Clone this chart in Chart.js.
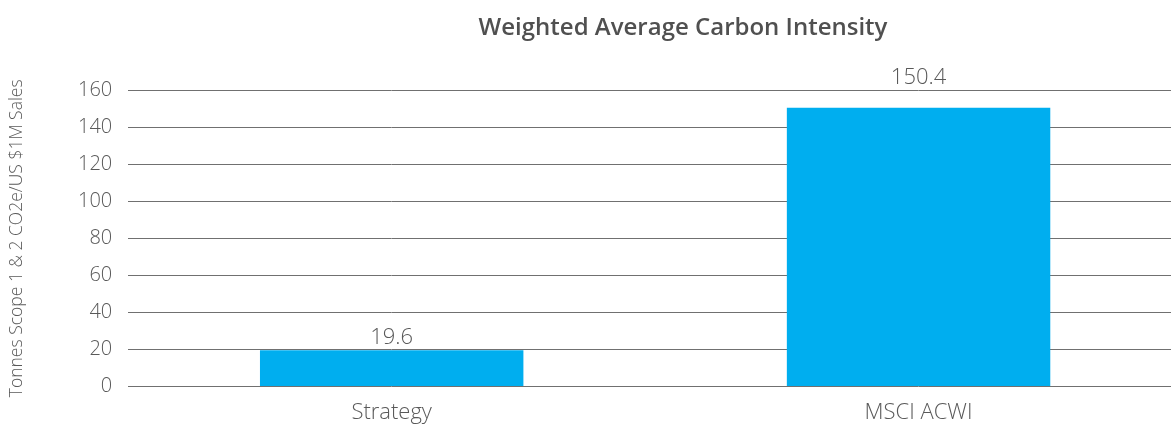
<!DOCTYPE html>
<html>
<head>
<meta charset="utf-8">
<script src="https://cdn.jsdelivr.net/npm/chart.js@4/dist/chart.umd.min.js"></script>
<style>
	html, body { margin: 0; padding: 0; background: #fff; overflow: hidden; }
	#wrap { width: 1182px; height: 439px; }
</style>
</head>
<body>
<div id="wrap"><canvas id="chart"></canvas></div>
<script>
const categories = ["Strategy", "MSCI ACWI"]
const intensity = [19.6, 150.4]
const yTicks = [0, 20, 40, 60, 80, 100, 120, 140, 160]
const chartTitle = "Weighted Average Carbon Intensity"
const yTitle = "Tonnes Scope 1 & 2 CO2e/US $1M Sales"

const FONT = "'Open Sans', 'DejaVu Sans', sans-serif"
const TEXT = "#595959"
const GRID = "#707070"

// value labels sit above the first gridline over each bar, plus the title
const labelsPlugin = {
	id: "valueLabels",
	afterDatasetsDraw(chart) {
		const ctx = chart.ctx
		const yScale = chart.scales.y
		ctx.save()
		ctx.fillStyle = TEXT
		ctx.font = "300 22px " + FONT
		ctx.textAlign = "center"
		ctx.textBaseline = "alphabetic"
		chart.getDatasetMeta(0).data.forEach((bar, i) => {
			const above = yTicks.find(t => t >= intensity[i])
			const lineY = above !== undefined ? yScale.getPixelForValue(above) : bar.y
			ctx.fillText(intensity[i].toFixed(1), bar.x, Math.min(bar.y, lineY) - 6)
		})
		ctx.font = "600 24px " + FONT
		ctx.fillStyle = "#505050"
		ctx.textBaseline = "middle"
		ctx.fillText(chartTitle, 683, 28)
		ctx.restore()
	}
}

new Chart(document.getElementById("chart"), {
	type: "bar",
	data: {
		labels: categories,
		datasets: [{
			data: intensity,
			backgroundColor: "#00AEEF",
			barPercentage: 1,
			categoryPercentage: 0.5
		}]
	},
	options: {
		responsive: true,
		maintainAspectRatio: false,
		animation: false,
		layout: { padding: { top: 90, right: 0, left: 1, bottom: 0 } },
		plugins: {
			legend: { display: false },
			tooltip: { enabled: false }
		},
		scales: {
			x: {
				grid: { display: false, drawTicks: false },
				border: { display: false },
				ticks: { color: TEXT, font: { family: FONT, size: 22, weight: 300 }, padding: 13 }
			},
			y: {
				min: 0,
				max: 160,
				afterBuildTicks: (axis) => { axis.ticks = yTicks.map(v => ({ value: v })) },
				grid: { color: GRID, lineWidth: 1, drawTicks: false },
				border: { display: false },
				ticks: { color: TEXT, font: { family: FONT, size: 20, weight: 300 }, padding: 16 },
				title: {
					display: true,
					text: yTitle,
					color: TEXT,
					font: { family: FONT, size: 17.5, weight: 300 },
					padding: { top: 6, bottom: 34 }
				}
			}
		}
	},
	plugins: [labelsPlugin]
})
</script>
</body>
</html>
